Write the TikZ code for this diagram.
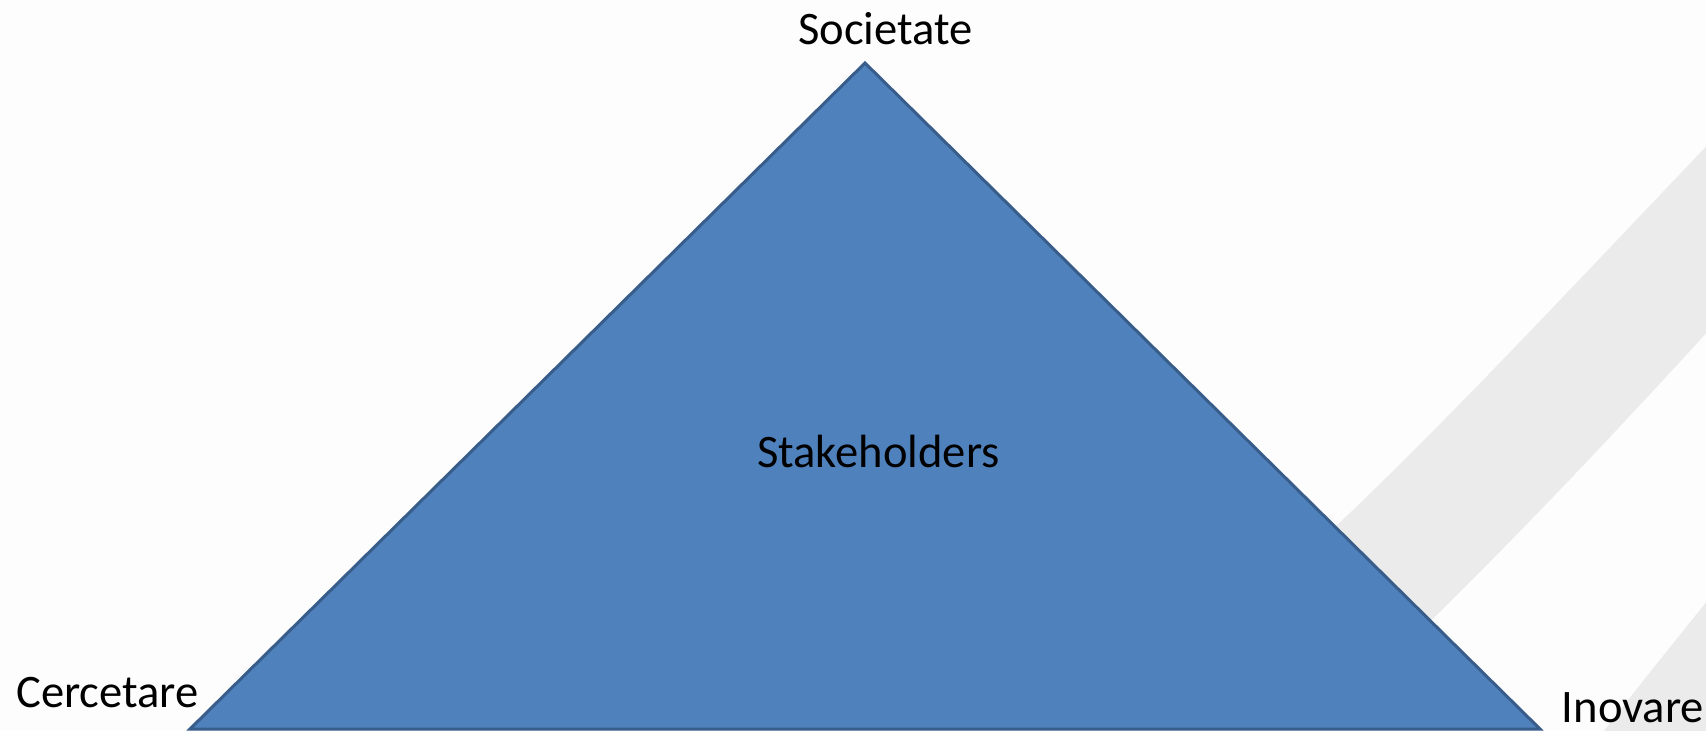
\documentclass[tikz,border=0pt]{standalone}
\usepackage{fontspec}
\setmainfont{Carlito}
\usetikzlibrary{positioning}
\definecolor{triFill}{HTML}{4F81BD}
\definecolor{triLine}{HTML}{385D8A}
\definecolor{bandColor}{HTML}{EAEBEA}
\definecolor{pageColor}{HTML}{FDFDFD}
\tikzset{
	lbl/.style={inner sep=0, outer sep=0, anchor=base, font=\fontsize{23.3}{28}\selectfont},
	band/.style={fill=bandColor, draw=none},
	tri/.style={fill=triFill, draw=triLine, line width=1.5pt, line join=miter}
}

\begin{document}
\begin{tikzpicture}[x=0.5pt, y=-0.5pt]
	\fill[pageColor] (0,0) rectangle (1706,731);
	\useasboundingbox (0,0) rectangle (1706,731);
	
	% grey bands of the slide background
	\begin{scope}
		\clip (0,0) rectangle (1706,731);
		\fill[band] (1720,132) .. controls (1550,310) and (1430,440) .. (1300,560) -- (1380,670) .. controls (1480,575) and (1600,450) .. (1720,318) -- cycle;
		\fill[band] (1720,585) .. controls (1680,635) and (1635,690) .. (1598,739) -- (1720,739) -- cycle;
	\end{scope}
	
	\coordinate (top) at (865,63);
	\coordinate (left) at (190,729);
	\coordinate (right) at (1540,729);
	\draw[tri] (top) -- (right) -- (left) -- cycle;
	
	\node[lbl] (soc) at (885.5,45) {Societate};
	\node[lbl] (stake) at (878.5,467) {Stakeholders};
	\node[lbl] (cerc) at (107.5,707) {Cercetare};
	\node[lbl] (inov) at (1633,722) {Inovare};
\end{tikzpicture}
\end{document}
